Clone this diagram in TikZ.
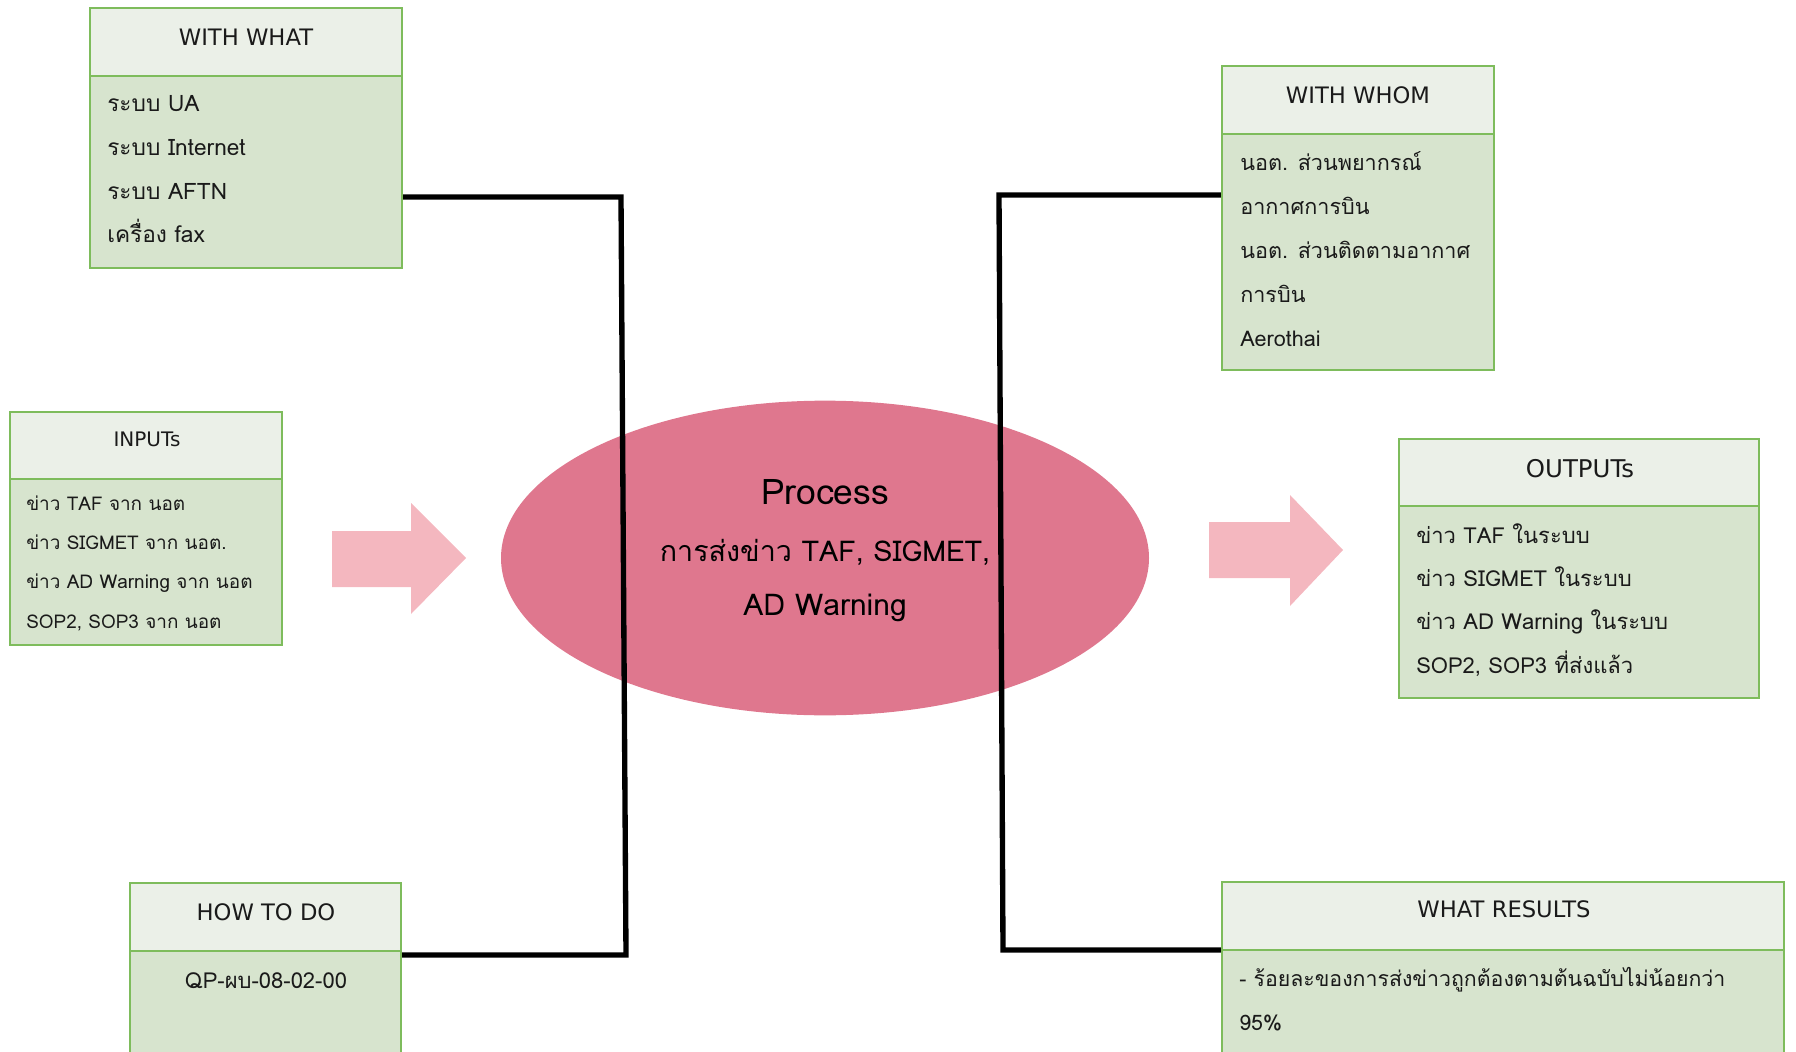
\documentclass[tikz,border=0pt]{standalone}
\usepackage{fontspec}
\setmainfont{DejaVu Sans}
\newfontfamily\thai[Script=Thai]{Loma}
\usetikzlibrary{shapes.geometric,fit}
\definecolor{hdrfill}{HTML}{EBF0E8}
\definecolor{bodyfill}{HTML}{D7E4CE}
\definecolor{boxline}{HTML}{7EBC5C}
\definecolor{procfill}{HTML}{DF778E}
\definecolor{arrfill}{HTML}{F4B7BF}
\definecolor{txt}{HTML}{1A1A1A}
\begin{document}
\begin{tikzpicture}[x=0.75pt,y=-0.75pt,
  hdr/.style={draw=boxline, line width=1.6pt, fill=hdrfill, inner sep=0pt},
  bodybox/.style={draw=boxline, line width=1.6pt, fill=bodyfill, inner sep=0pt},
  hdrtext/.style={font=\fontsize{17}{20}\selectfont, text=txt, inner sep=0pt, anchor=center},
  bodytext/.style={font=\thai\fontsize{16.5}{32.8}\selectfont, text=txt, align=left, anchor=base west, inner sep=0pt},
  smalltext/.style={font=\thai\fontsize{14.2}{29.3}\selectfont, text=txt, align=left, anchor=base west, inner sep=0pt},
  proctext/.style={text=black, anchor=base, inner sep=0pt},
  link/.style={line width=4pt, line join=miter},
  bigarrow/.style={fill=arrfill}]
\useasboundingbox (0,0) rectangle (1796,1052);
\clip (0,0) rectangle (1796,1052);

% WITH WHAT
\node[hdr, fit={(90,8)(402,76)}] (whathdr) {};
\node[bodybox, fit={(90,76)(402,268)}] (whatbody) {};
\node[hdrtext] (whatt) at (246,37) {WITH WHAT};
\node[bodytext, font=\thai\fontsize{17}{32.8}\selectfont] (whatb) at (107,243) {ระบบ UA\\ระบบ Internet\\ระบบ AFTN\\เครื่อง fax};

% WITH WHOM
\node[hdr, fit={(1222,66)(1494,134)}] (whomhdr) {};
\node[bodybox, fit={(1222,134)(1494,370)}] (whombody) {};
\node[hdrtext] (whomt) at (1358,95) {WITH WHOM};
\node[bodytext, font=\thai\fontsize{16.2}{33}\selectfont] (whomb) at (1240,346) {นอต. ส่วนพยากรณ์\\อากาศการบิน\\นอต. ส่วนติดตามอากาศ\\การบิน\\Aerothai};

% INPUTs
\node[hdr, fit={(10,412)(282,479)}] (inhdr) {};
\node[bodybox, fit={(10,479)(282,645)}] (inbody) {};
\node[hdrtext, font=\fontsize{15}{18}\selectfont] (int) at (147,439) {INPUTs};
\node[smalltext] (inb) at (26,628) {ข่าว TAF จาก นอต\\ข่าว SIGMET จาก นอต.\\ข่าว AD Warning จาก นอต\\SOP2, SOP3 จาก นอต};

% OUTPUTs
\node[hdr, fit={(1399,439)(1759,506)}] (outhdr) {};
\node[bodybox, fit={(1399,506)(1759,698)}] (outbody) {};
\node[hdrtext, font=\fontsize{18.3}{21}\selectfont] (outt) at (1580,469) {OUTPUTs};
\node[bodytext, font=\thai\fontsize{16.5}{32.5}\selectfont] (outb) at (1416,673) {ข่าว TAF ในระบบ\\ข่าว SIGMET ในระบบ\\ข่าว AD Warning ในระบบ\\SOP2, SOP3 ที่ส่งแล้ว};

% HOW TO DO
\node[hdr, fit={(130,883)(401,951)}] (howhdr) {};
\node[bodybox, fit={(130,951)(401,1070)}] (howbody) {};
\node[hdrtext] (howt) at (266,912) {HOW TO DO};
\node[bodytext, anchor=base] (howb) at (266,988) {QP-ผบ-08-02-00};

% WHAT RESULTS
\node[hdr, fit={(1222,882)(1784,950)}] (reshdr) {};
\node[bodybox, fit={(1222,950)(1784,1070)}] (resbody) {};
\node[hdrtext] (rest) at (1504,909) {WHAT RESULTS};
\node[bodytext, font=\thai\fontsize{16}{32.3}\selectfont] (resb) at (1239,1030) {- ร้อยละของการส่งข่าวถูกต้องตามต้นฉบับไม่น้อยกว่า\\95\%};

% Process ellipse
\node[ellipse, fill=procfill, minimum width=486pt, minimum height=236pt, inner sep=0pt] (proc) at (825,558) {};
\node[proctext, font=\thai\fontsize{26.5}{30}\selectfont] (proct1) at (825,504) {Process};
\node[proctext, font=\thai\fontsize{21.5}{26}\selectfont] (proct2) at (825,561) {การส่งข่าว TAF, SIGMET,};
\node[proctext, font=\thai\fontsize{22.5}{26}\selectfont] (proct3) at (825,615) {AD Warning};

% arrows
\fill[bigarrow] (332,531) -- (411,531) -- (411,503) -- (466,558) -- (411,614) -- (411,587) -- (332,587) -- cycle;
\fill[bigarrow] (1209,522) -- (1290,522) -- (1290,495) -- (1343,550) -- (1290,606) -- (1290,578) -- (1209,578) -- cycle;

% connectors
\coordinate (lj1) at (621,197);
\coordinate (lj2) at (626,955);
\coordinate (rj1) at (999,195);
\coordinate (rj2) at (1003,950);
\draw[link] (lj1 -| whatbody.east) -- (lj1) -- (lj2) -- (lj2 -| howbody.east);
\draw[link] (rj1 -| whombody.west) -- (rj1) -- (rj2) -- (rj2 -| resbody.west);
\end{tikzpicture}
\end{document}
